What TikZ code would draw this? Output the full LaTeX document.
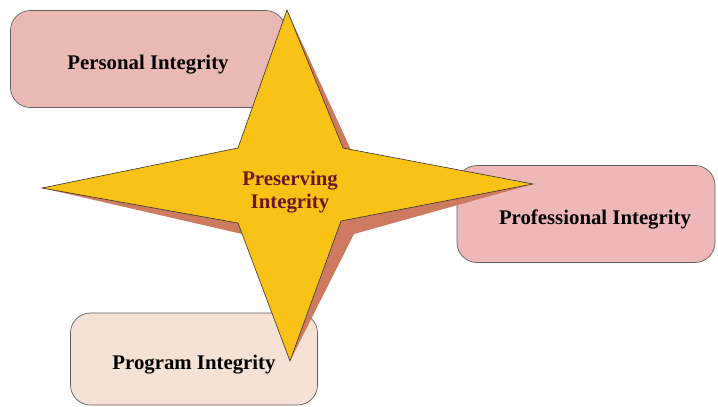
\documentclass[tikz,border=0pt]{standalone}
\usepackage{fontspec}
\setmainfont{Liberation Serif}
\usepackage{tikz}
\definecolor{rosebox}{RGB}{234, 185, 180}
\definecolor{rosebox2}{RGB}{238, 184, 184}
\definecolor{peachbox}{RGB}{246, 226, 213}
\definecolor{stargold}{RGB}{249, 194, 22}
\definecolor{starshade}{RGB}{206, 122, 96}
\definecolor{wine}{RGB}{112, 22, 30}
\definecolor{edgegray}{RGB}{95, 95, 95}
\usetikzlibrary{positioning}

\tikzset{
    areabox/.style={draw=edgegray, line width=0.7pt, rounded corners=20pt,
        inner sep=0pt, text height=20pt, text depth=0pt,
        font=\fontsize{20.8}{25}\selectfont\bfseries},
    starfill/.style={fill=stargold, draw=black!80, line width=0.6pt}
}

\begin{document}
\begin{tikzpicture}[x=1pt, y=-1pt]
    \useasboundingbox (0,0) rectangle (718,407);

    \node[areabox, fill=rosebox, minimum width=275pt, minimum height=97pt]
        (personal) at (148,59) {Personal Integrity};
    \node[areabox, fill=rosebox2, minimum width=258pt, minimum height=97pt]
        (professional) at (586,214) {\hspace{18pt}Professional Integrity};
    \node[areabox, fill=peachbox, minimum width=247pt, minimum height=92pt]
        (program) at (194,359) {Program Integrity};

    \coordinate (top) at (287,10);
    \coordinate (left) at (42,188);
    \coordinate (right) at (533,184);
    \coordinate (bottom) at (290,361);

    \fill[starshade, shift={(13,13)}]
        (top) -- (343,148) -- (right) -- (341,221) -- (bottom)
        -- (238,223) -- (left) -- (238,148) -- cycle;
    \draw[starfill]
        (top) -- (343,148) -- (right) -- (341,221) -- (bottom)
        -- (238,223) -- (left) -- (238,148) -- cycle;

    \node[align=center, text=wine, font=\fontsize{20.8}{23}\selectfont\bfseries]
        (preserving) at (290,192) {Preserving\\Integrity};
\end{tikzpicture}
\end{document}
